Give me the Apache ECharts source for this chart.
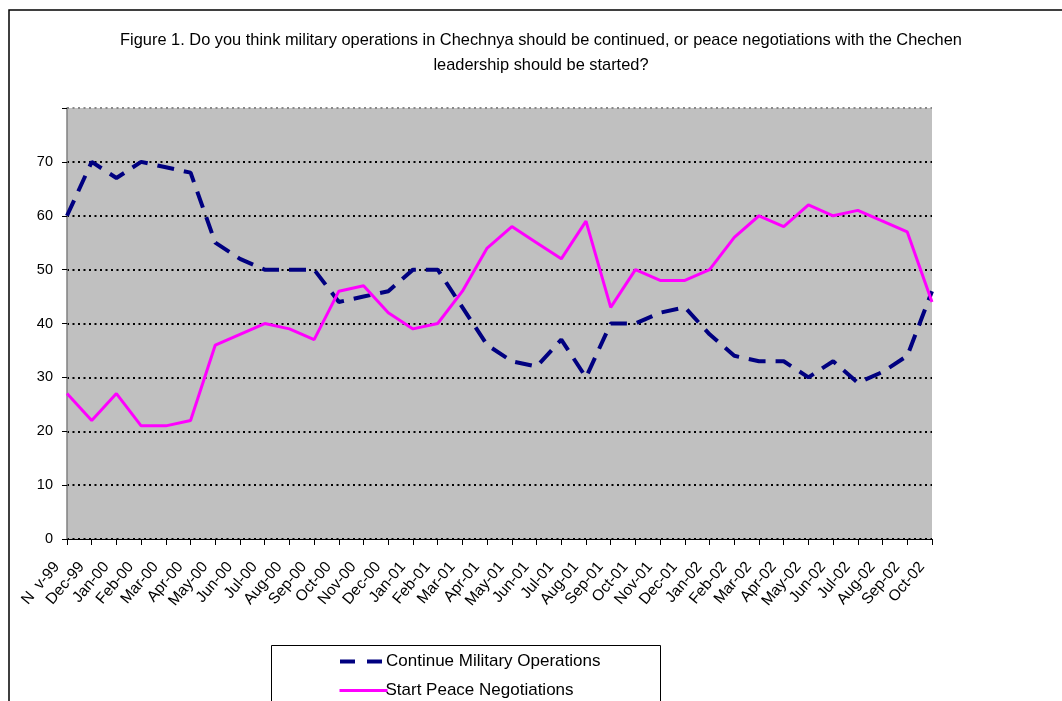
<!DOCTYPE html>
<html>
<head>
<meta charset="utf-8">
<script src="https://cdn.jsdelivr.net/npm/echarts@6/dist/echarts.min.js"></script>
<style>
html,body{margin:0;padding:0;background:#fff;}
#chart{width:1062px;height:701px;}
</style>
</head>
<body>
<div id="chart"></div>
<script>
const categories = ['N  v-99','Dec-99','Jan-00','Feb-00','Mar-00','Apr-00','May-00','Jun-00','Jul-00','Aug-00','Sep-00','Oct-00','Nov-00','Dec-00','Jan-01','Feb-01','Mar-01','Apr-01','May-01','Jun-01','Jul-01','Aug-01','Sep-01','Oct-01','Nov-01','Dec-01','Jan-02','Feb-02','Mar-02','Apr-02','May-02','Jun-02','Jul-02','Aug-02','Sep-02','Oct-02'];
const militaryOps = [60,70,67,70,69,68,55,52,50,50,50,44,45,46,50,50,43,36,33,32,37,30,40,40,42,43,38,34,33,33,30,33,29,31,34,46];
const peaceTalks = [27,22,27,21,21,22,36,38,40,39,37,46,47,42,39,40,46,54,58,55,52,59,43,50,48,48,50,56,60,58,62,60,61,59,57,44];
const yTicks = [0,10,20,30,40,50,60,70,80];
const titleText = 'Figure 1. Do you think military operations in Chechnya should be continued, or peace negotiations with the Chechen\nleadership should be started?';
const seriesNames = ['Continue Military Operations','Start Peace Negotiations'];

const chart = echarts.init(document.getElementById('chart'));
const font = '"Liberation Sans", Arial, sans-serif';
const legendCommon = {
  left:333, itemWidth:48, itemHeight:14, z:10,
  itemStyle:{opacity:0},
  textStyle:{fontSize:17, color:'#000', fontFamily:font, padding:[0,0,0,-7]}
};
chart.setOption({
  animation: false,
  backgroundColor: '#fff',
  textStyle: {fontFamily: font},
  graphic: [
    {type:'rect', shape:{x:9, y:10, width:1100, height:800}, style:{fill:'none', stroke:'#000', lineWidth:1.5}, z:-1},
    {type:'rect', shape:{x:271.5, y:645.5, width:389, height:100}, style:{fill:'#fff', stroke:'#000', lineWidth:1}, z:0},
    {type:'text', x:541, y:28, style:{text:titleText, font:'16.4px "Liberation Sans", Arial, sans-serif', fill:'#000', align:'center', lineHeight:25}, z:5}
  ],
  grid: {left:67, right:130, top:108, bottom:162, show:true, backgroundColor:'#C0C0C0', borderWidth:0},
  legend: [
    Object.assign({}, legendCommon, {top:648, data:[{name:seriesNames[0], lineStyle:{width:4, type:[15,12], color:'#000080'}}]}),
    Object.assign({}, legendCommon, {top:677, data:[{name:seriesNames[1], lineStyle:{width:3, color:'#FF00FF'}}]})
  ],
  xAxis: {
    type:'category', data:categories, boundaryGap:false,
    axisLine:{show:true, lineStyle:{color:'#000', width:1}},
    axisTick:{show:true, alignWithLabel:true, interval:0, length:6, lineStyle:{color:'#000'}},
    axisLabel:{interval:0, rotate:50, fontSize:15.5, color:'#000', fontFamily:font, margin:13, padding:[0,16,0,0]},
    splitLine:{show:false}
  },
  yAxis: {
    type:'value', min:0, max:80, interval:10,
    axisLine:{show:true, lineStyle:{color:'#808080', width:1.5}},
    axisTick:{show:true, inside:false, length:5, lineStyle:{color:'#000'}},
    axisLabel:{fontSize:14.5, color:'#000', fontFamily:font, margin:14, formatter: v => (v === 80 ? '' : String(v))},
    splitLine:{show:true, lineStyle:{color:['#000','#000','#000','#000','#000','#000','#000','#000','#888'], width:2, type:[2,3.5]}}
  },
  series: [
    {name:seriesNames[0], type:'line', data:militaryOps, symbol:'none', lineStyle:{color:'#000080', width:4, type:[17,10]}, itemStyle:{color:'#000080'}, z:3},
    {name:seriesNames[1], type:'line', data:peaceTalks, symbol:'none', lineStyle:{color:'#FF00FF', width:3}, itemStyle:{color:'#FF00FF'}, z:4}
  ]
});
</script>
</body>
</html>
